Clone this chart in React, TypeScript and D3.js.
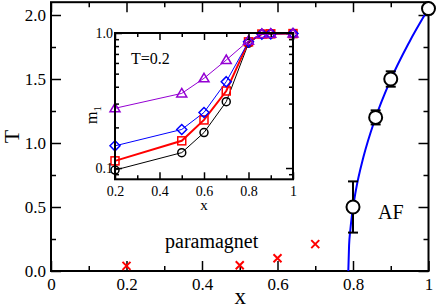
import { useEffect, useRef } from 'react';
import * as d3 from 'd3';

// main panel: phase boundary points (x, T, error)
const boundaryPts: Array<[number, number, number]> = [
  [0.8, 0.5, 0.2],
  [0.86, 1.2, 0.055],
  [0.9, 1.5, 0.06],
  [1.0, 2.05, 0],
];
// blue fit line
const fitLine: Array<[number, number]> = [
  [0.7876, 0], [0.7896, 0.2], [0.7926, 0.31], [0.7976, 0.445], [0.8076, 0.63],
  [0.8276, 0.89], [0.8576, 1.18], [0.8976, 1.48], [0.9476, 1.78], [1.0, 2.05],
];
// red crosses
const crossPts: Array<[number, number]> = [[0.2, 0.04], [0.5, 0.045], [0.6, 0.1], [0.7, 0.21]];

const xMajor = [0, 0.2, 0.4, 0.6, 0.8, 1];
const xMajorLabels = ['0', '0.2', '0.4', '0.6', '0.8', '1'];
const xMinor = [0.1, 0.3, 0.5, 0.7, 0.9];
const yMajor = [0, 0.5, 1, 1.5, 2];
const yMajorLabels = ['0.0', '0.5', '1.0', '1.5', '2.0'];
const yMinor = [0.25, 0.75, 1.25, 1.75];

// inset: m1 vs x at T=0.2
const insetX = [0.2, 0.5, 0.6, 0.7, 0.8, 0.86, 0.9, 1.0];
const mTriangle = [0.277, 0.357, 0.462, 0.631, 0.877, 0.985, 0.988, 0.99];
const mDiamond = [0.146, 0.193, 0.258, 0.436, 0.86, 0.982, 0.986, 0.99];
const mSquare = [0.113, 0.159, 0.227, 0.372, 0.86, 0.982, 0.986, 0.99];
const mCircle = [0.0966, 0.13, 0.183, 0.31, 0.84, 0.98, 0.985, 0.99];

const ixMajor = [0.2, 0.4, 0.6, 0.8, 1];
const ixMajorLabels = ['0.2', '0.4', '0.6', '0.8', '1'];
const ixMinor = [0.3, 0.5, 0.7, 0.9];
const iyMajor = [0.1, 1];
const iyMajorLabels = ['0.1', '1.0'];
const iyMinor = [0.09, 0.2, 0.3, 0.4, 0.5, 0.6, 0.7, 0.8, 0.9];

const FONT = '"Liberation Serif", "Times New Roman", serif';

export default function App() {
  const gRef = useRef<SVGGElement>(null);

  useEffect(() => {
    if (!gRef.current) return;
    const g = d3.select(gRef.current);
    g.selectAll('*').remove();

    const x = d3.scaleLinear().domain([0, 1]).range([51, 428.5]);
    const y = d3.scaleLinear().domain([0, 2.1]).range([271, 2.2]);
    const [x0, x1] = x.range();
    const [y0, y1] = y.range();

    const styleAxis = (sel: any, fs: number) => {
      sel.select('.domain').remove();
      sel.selectAll('.tick line').attr('stroke', '#000').attr('stroke-width', 1.5);
      sel.selectAll('text').attr('font-family', FONT).attr('font-size', fs).attr('fill', '#000');
    };

    const addAxes = (
      xs: any, ys: any, xa: number[], xl: string[], xm: number[], ya: number[], yl: string[], ym: number[],
      big: number, small: number, fs: number, padX: number, padY: number
    ) => {
      const [ax0, ax1] = xs.range();
      const [ay0, ay1] = ys.range();
      // bottom
      g.append('g').attr('transform', `translate(0,${ay0})`)
        .call(d3.axisBottom(xs).tickValues(xa).tickFormat((_d: any, i: number) => xl[i]).tickSize(-big).tickPadding(padX))
        .call((s: any) => styleAxis(s, fs));
      g.append('g').attr('transform', `translate(0,${ay0})`)
        .call(d3.axisBottom(xs).tickValues(xm).tickFormat(() => '').tickSize(-small))
        .call((s: any) => styleAxis(s, fs));
      // top
      g.append('g').attr('transform', `translate(0,${ay1})`)
        .call(d3.axisTop(xs).tickValues(xa).tickFormat(() => '').tickSize(-big))
        .call((s: any) => styleAxis(s, fs));
      g.append('g').attr('transform', `translate(0,${ay1})`)
        .call(d3.axisTop(xs).tickValues(xm).tickFormat(() => '').tickSize(-small))
        .call((s: any) => styleAxis(s, fs));
      // left
      g.append('g').attr('transform', `translate(${ax0},0)`)
        .call(d3.axisLeft(ys).tickValues(ya).tickFormat((_d: any, i: number) => yl[i]).tickSize(-big).tickPadding(padY))
        .call((s: any) => styleAxis(s, fs));
      g.append('g').attr('transform', `translate(${ax0},0)`)
        .call(d3.axisLeft(ys).tickValues(ym).tickFormat(() => '').tickSize(-small))
        .call((s: any) => styleAxis(s, fs));
      // right
      g.append('g').attr('transform', `translate(${ax1},0)`)
        .call(d3.axisRight(ys).tickValues(ya).tickFormat(() => '').tickSize(-big))
        .call((s: any) => styleAxis(s, fs));
      g.append('g').attr('transform', `translate(${ax1},0)`)
        .call(d3.axisRight(ys).tickValues(ym).tickFormat(() => '').tickSize(-small))
        .call((s: any) => styleAxis(s, fs));
      g.append('rect')
        .attr('x', ax0).attr('y', ay1).attr('width', ax1 - ax0).attr('height', ay0 - ay1)
        .attr('fill', 'none').attr('stroke', '#000').attr('stroke-width', 2);
    };

    // main panel
    addAxes(x, y, xMajor, xMajorLabels, xMinor, yMajor, yMajorLabels, yMinor, 10, 5, 17, 7, 5);

    const line = d3.line<[number, number]>()
      .x((d) => x(d[0])).y((d) => y(d[1]))
      .curve(d3.curveMonotoneX);
    g.append('path').datum(fitLine)
      .attr('d', line).attr('fill', 'none').attr('stroke', '#0000ff').attr('stroke-width', 2);

    boundaryPts.forEach(([px, py, e]) => {
      if (e > 0) {
        const cx = x(px);
        g.append('line').attr('x1', cx).attr('x2', cx).attr('y1', y(py - e)).attr('y2', y(py + e))
          .attr('stroke', '#000').attr('stroke-width', 2);
        [py - e, py + e].forEach((v) => {
          g.append('line').attr('x1', cx - 5).attr('x2', cx + 5).attr('y1', y(v)).attr('y2', y(v))
            .attr('stroke', '#000').attr('stroke-width', 2);
        });
      }
      g.append('circle').attr('cx', x(px)).attr('cy', y(py)).attr('r', 6.5)
        .attr('fill', '#fff').attr('stroke', '#000').attr('stroke-width', 2);
    });

    crossPts.forEach(([px, py]) => {
      const cx = x(px), cy = y(py), s = 4;
      g.append('path')
        .attr('d', `M${cx - s},${cy - s}L${cx + s},${cy + s}M${cx - s},${cy + s}L${cx + s},${cy - s}`)
        .attr('stroke', '#ff0000').attr('stroke-width', 2).attr('fill', 'none');
    });

    g.append('text').attr('x', 165).attr('y', 247.5).text('paramagnet')
      .attr('font-family', FONT).attr('font-size', 20);
    g.append('text').attr('x', 378).attr('y', 219).text('AF')
      .attr('font-family', FONT).attr('font-size', 20);
    g.append('text').attr('x', (x0 + x1) / 2 + 0.5).attr('y', 304).attr('text-anchor', 'middle').text('x')
      .attr('font-family', FONT).attr('font-size', 23);
    g.append('text').attr('transform', `translate(19,${(y0 + y1) / 2}) rotate(-90)`)
      .attr('text-anchor', 'middle').text('T')
      .attr('font-family', FONT).attr('font-size', 22);

    // inset
    const ix = d3.scaleLinear().domain([0.2, 1]).range([115, 293]);
    const iy = d3.scaleLog().domain([0.0825, 1]).range([179.3, 33]);
    g.append('rect').attr('x', 115).attr('y', 33).attr('width', 178).attr('height', 146.3).attr('fill', '#fff');

    const iline = d3.line<number>().x((_d, i) => ix(insetX[i])).y((d) => iy(d));
    const series = [
      { vals: mTriangle, color: '#9400d3', w: 1, shape: 'tri' },
      { vals: mDiamond, color: '#0000ff', w: 1, shape: 'dia' },
      { vals: mSquare, color: '#ff0000', w: 2, shape: 'sq' },
      { vals: mCircle, color: '#000000', w: 1, shape: 'circ' },
    ];
    // draw lines bottom-up so the triangles end on top
    [...series].reverse().forEach((s) => {
      g.append('path').datum(s.vals).attr('d', iline)
        .attr('fill', 'none').attr('stroke', s.color).attr('stroke-width', s.w);
    });
    [...series].reverse().forEach((s) => {
      s.vals.forEach((v, i) => {
        const cx = ix(insetX[i]), cy = iy(v);
        let el: any;
        if (s.shape === 'circ') {
          el = g.append('circle').attr('cx', cx).attr('cy', cy).attr('r', 4);
        } else if (s.shape === 'sq') {
          el = g.append('rect').attr('x', cx - 4).attr('y', cy - 4).attr('width', 8).attr('height', 8);
        } else if (s.shape === 'dia') {
          el = g.append('path').attr('d', `M${cx},${cy - 5}L${cx + 5},${cy}L${cx},${cy + 5}L${cx - 5},${cy}Z`);
        } else {
          el = g.append('path').attr('d', `M${cx},${cy - 5}L${cx + 5},${cy + 3.5}L${cx - 5},${cy + 3.5}Z`);
        }
        el.attr('fill', 'none').attr('stroke', s.color).attr('stroke-width', 1.5);
      });
    });

    addAxes(ix, iy, ixMajor, ixMajorLabels, ixMinor, iyMajor, iyMajorLabels, iyMinor, 7, 4, 14, 7, 2);

    g.append('text').attr('x', 131).attr('y', 64).text('T=0.2')
      .attr('font-family', FONT).attr('font-size', 16);
    g.append('text').attr('x', 204).attr('y', 210).attr('text-anchor', 'middle').text('x')
      .attr('font-family', FONT).attr('font-size', 15);
    const ml = g.append('text').attr('transform', 'translate(97,115) rotate(-90)')
      .attr('text-anchor', 'middle').attr('font-family', FONT).attr('font-size', 16);
    ml.append('tspan').text('m');
    ml.append('tspan').attr('font-size', 11).attr('dy', 4).text('1');
  }, []);

  return (
    <div style={{ position: 'fixed', left: 0, top: 0 }}>
      <svg width={436} height={308} style={{ display: 'block', background: '#fff' }}>
        <g ref={gRef} />
      </svg>
    </div>
  );
}
